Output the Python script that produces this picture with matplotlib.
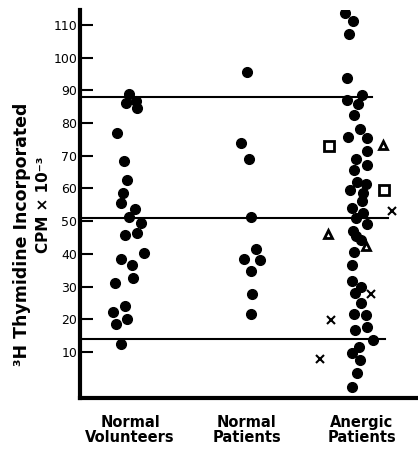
import numpy as np
import matplotlib.pyplot as plt

# values (CPM x 10^-3); x is the horizontal spread of each dot
nv_y = [88.9, 86.1, 86.9, 84.5, 77.1, 68.4, 62.6, 58.7, 55.5, 53.7, 51.4, 49.3,
        45.7, 46.5, 40.3, 38.3, 36.5, 32.5, 31.1, 23.9, 22.3, 20.0, 18.5, 12.4]
nv_x = [129, 126, 136, 137, 117, 124, 127, 123, 121, 135, 129, 141,
        125, 137, 144, 121, 132, 133, 115, 125, 113, 127, 116, 121]

np_y = [95.5, 74.0, 68.9, 51.2, 41.4, 38.4, 38.0, 34.8, 27.6, 21.5]
np_x = [247, 241, 249, 251, 256, 244, 260, 251, 252, 251]

ap_y = [113.6, 111.3, 107.2, 93.8, 88.6, 87.1, 85.7, 82.4, 78.2, 75.8, 75.3,
        71.6, 69.0, 67.3, 65.7, 61.9, 61.4, 59.5, 58.5, 56.2, 54.0, 52.6,
        51.0, 49.0, 47.0, 45.5, 44.3, 40.6, 36.7, 31.7, 30.0, 28.1, 25.1,
        21.5, 21.3, 16.7, 17.6, 13.7, 11.4, 9.6, 7.6, 3.5, -0.6]
ap_x = [345, 353, 349, 347, 362, 347, 358, 354, 360, 348, 367,
        367, 356, 367, 354, 357, 366, 350, 363, 362, 352, 363,
        356, 367, 353, 356, 361, 354, 352, 352, 361, 355, 361,
        354, 366, 355, 367, 373, 359, 352, 360, 357, 352]

sq_y = [73.1, 59.5]
sq_x = [329, 384]
tri_y = [73.3, 46.0, 42.4]
tri_x = [383, 328, 366]
cross_y = [53.1, 27.6, 19.8, 7.8]
cross_x = [392, 371, 331, 320]

lines_y = [88, 51, 14]
lines_end = [372, 388, 385]

groups = ['Normal\nVolunteers', 'Normal\nPatients', 'Anergic\nPatients']
group_pos = [130, 247, 362]

fig = plt.figure(figsize=(4.18, 4.58), dpi=100)
ax = fig.add_axes([80/418, 1-398/458, (418-80)/418, (398-10)/458])
ax.set_xlim(80, 418)
ax.set_ylim(-4.1, 114.6)

for yv, xe in zip(lines_y, lines_end):
    ax.plot([80, xe], [yv, yv], color='black', lw=1.5, zorder=1)

ax.plot(nv_x, nv_y, 'o', color='black', ms=7, zorder=3)
ax.plot(np_x, np_y, 'o', color='black', ms=7, zorder=3)
ax.plot(ap_x, ap_y, 'o', color='black', ms=7, zorder=3)
ax.plot(sq_x, sq_y, 's', mfc='white', mec='black', mew=2, ms=6.5, zorder=3)
ax.plot(tri_x, tri_y, '^', mfc='white', mec='black', mew=2, ms=5.5, zorder=3)
ax.plot(cross_x, cross_y, 'x', color='black', mew=1.5, ms=5.5, zorder=3)

for s in ['top', 'right']:
    ax.spines[s].set_visible(False)
for s in ['left', 'bottom']:
    ax.spines[s].set_linewidth(3)

ax.set_yticks(range(10, 111, 10))
ax.tick_params(axis='y', direction='in', length=9, width=1.5, pad=2, labelsize=9)
ax.set_xticks(group_pos)
ax.set_xticklabels(groups, fontsize=10.5, fontweight='bold', linespacing=1.05)
ax.tick_params(axis='x', length=0, pad=12)

fig.text(22/418, 1-234/458, '\u00b3H Thymidine Incorporated', rotation=90,
         ha='center', va='center', fontsize=12.5, fontweight='bold')
fig.text(43/418, 1-205/458, 'CPM \u00d7 10\u207b\u00b3', rotation=90,
         ha='center', va='center', fontsize=11, fontweight='bold')

fig.savefig('out.png', dpi=100)
